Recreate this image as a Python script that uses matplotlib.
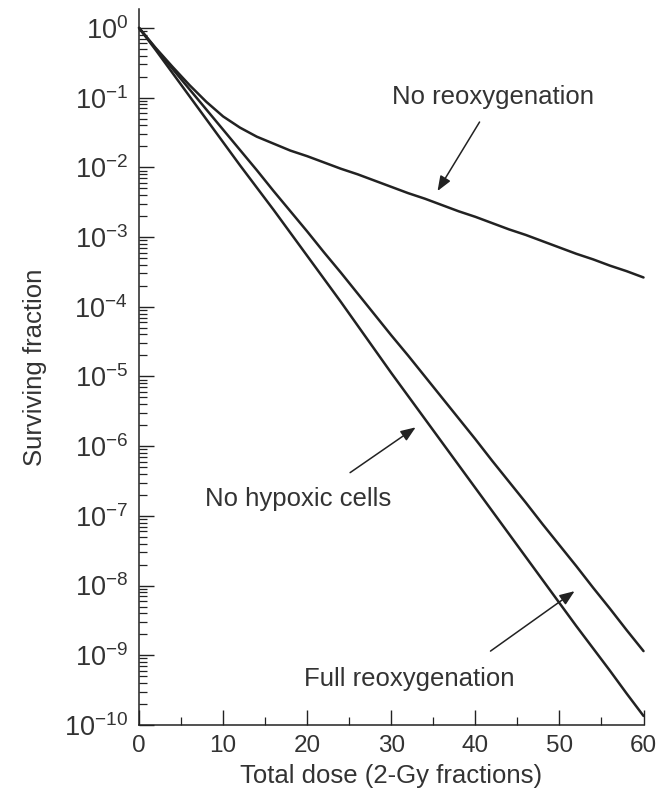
import numpy as np
import matplotlib
matplotlib.use("Agg")
import matplotlib.pyplot as plt
from matplotlib.ticker import LogLocator, MultipleLocator, NullFormatter

plt.rcParams['font.family'] = ['Liberation Sans', 'DejaVu Sans']
plt.rcParams['mathtext.fontset'] = 'custom'
plt.rcParams['mathtext.rm'] = 'Liberation Sans'
plt.rcParams['mathtext.it'] = 'Liberation Sans:italic'

# Total dose (Gy), one point per 2-Gy fraction
dose = [0, 2, 4, 6, 8, 10, 12, 14, 16, 18, 20, 22, 24, 26, 28, 30,
        32, 34, 36, 38, 40, 42, 44, 46, 48, 50, 52, 54, 56, 58, 60]

# log10 of surviving fraction for each scenario
log_no_reox = [0.00, -0.29, -0.56, -0.82, -1.06, -1.27, -1.43, -1.56, -1.66, -1.76,
               -1.84, -1.93, -2.02, -2.10, -2.19, -2.28, -2.37, -2.45, -2.54, -2.63,
               -2.71, -2.80, -2.89, -2.97, -3.06, -3.15, -3.24, -3.32, -3.41, -3.49, -3.58]
log_full_reox = [0.00, -0.30, -0.59, -0.88, -1.17, -1.46, -1.75, -2.04, -2.34, -2.63,
                 -2.92, -3.22, -3.51, -3.81, -4.11, -4.41, -4.70, -5.00, -5.30, -5.60,
                 -5.90, -6.21, -6.51, -6.81, -7.12, -7.42, -7.72, -8.03, -8.33, -8.64, -8.94]
log_no_hypoxic = [0.00, -0.32, -0.65, -0.98, -1.31, -1.64, -1.97, -2.29, -2.61, -2.94,
                  -3.27, -3.60, -3.93, -4.27, -4.61, -4.95, -5.28, -5.61, -5.94, -6.27,
                  -6.60, -6.93, -7.26, -7.59, -7.92, -8.25, -8.58, -8.90, -9.22, -9.55, -9.87]

x_ticks = [0, 10, 20, 30, 40, 50, 60]

ink = '#222222'
text_c = '#333333'

fig = plt.figure(figsize=(6.59, 8.01), dpi=100)
ax = fig.add_axes([0.211, 0.0949, 0.7655, 0.8939])

for series in (log_no_reox, log_full_reox, log_no_hypoxic):
    ax.plot(dose, 10.0 ** np.asarray(series), color=ink, lw=1.8,
            solid_joinstyle='round', solid_capstyle='round', clip_on=False)

ax.set_yscale('log')
ax.set_xlim(0, 60)
ax.set_ylim(1e-10, 1.87)

ax.set_xticks(x_ticks)
ax.xaxis.set_minor_locator(MultipleLocator(5))
ax.yaxis.set_major_locator(LogLocator(base=10, numticks=20))
ax.yaxis.set_minor_locator(LogLocator(base=10, subs=np.arange(2, 10), numticks=20))
ax.yaxis.set_minor_formatter(NullFormatter())

for side in ('top', 'right'):
    ax.spines[side].set_visible(False)
for side in ('left', 'bottom'):
    ax.spines[side].set_linewidth(1.1)
    ax.spines[side].set_color(ink)

ax.tick_params(which='major', direction='in', length=10.5, width=1.0,
               color=ink, labelcolor=text_c, pad=7)
ax.tick_params(axis='x', which='major', labelsize=17.5)
ax.tick_params(axis='y', which='major', labelsize=19.5, pad=8)
ax.tick_params(which='minor', direction='in', length=5.5, width=0.9, color=ink)

ax.set_xlabel('Total dose (2-Gy fractions)', fontsize=18.5, color=text_c, labelpad=5)
ax.set_ylabel('Surviving fraction', fontsize=18.5, color=text_c, labelpad=12)

arrow = dict(arrowstyle='-|>,head_length=0.9,head_width=0.35', color=ink, lw=1.1,
             shrinkA=0, shrinkB=0)

ax.annotate('', xy=(35.5, 10 ** -2.34), xytext=(40.5, 10 ** -1.35), arrowprops=arrow)
ax.text(42.1, 10 ** -0.99, 'No reoxygenation', fontsize=18.5, color=text_c,
        ha='center', va='center')

ax.annotate('', xy=(32.9, 10 ** -5.73), xytext=(25.1, 10 ** -6.38), arrowprops=arrow)
ax.text(18.9, 10 ** -6.76, 'No hypoxic cells', fontsize=18.5, color=text_c,
        ha='center', va='center')

ax.annotate('', xy=(51.8, 10 ** -8.08), xytext=(41.8, 10 ** -8.94), arrowprops=arrow)
ax.text(32.1, 10 ** -9.34, 'Full reoxygenation', fontsize=18.5, color=text_c,
        ha='center', va='center')

fig.savefig('out.png', dpi=100, facecolor='white')
